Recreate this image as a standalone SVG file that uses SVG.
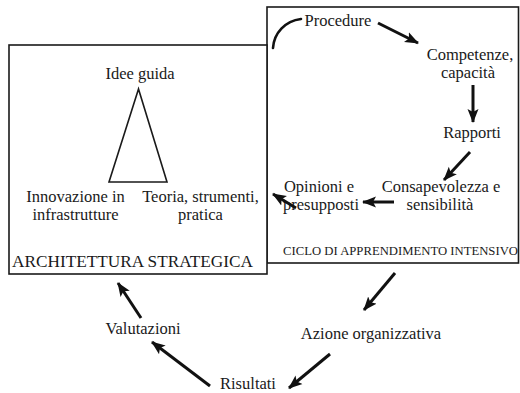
<svg xmlns="http://www.w3.org/2000/svg" width="520" height="393" viewBox="0 0 520 393">
  <style>
    .box { fill: #fff; stroke: #1a1a1a; stroke-width: 1.6; }
    .lbl { font-size: 16.5px; fill: #1a1a1a; text-anchor: middle; }
    .cap { fill: #1a1a1a; }
    .arr { fill: none; stroke: #111; stroke-width: 3; marker-end: url(#head); }
    .tri { fill: none; stroke: #1a1a1a; stroke-width: 1.6; stroke-linejoin: miter; }
  </style>
  <defs>
    <marker id="head" markerUnits="userSpaceOnUse" markerWidth="14" markerHeight="12" refX="13" refY="6" orient="auto">
      <path d="M0,0.5 L14,6 L0,11.5 L3,6 Z" fill="#111"/>
    </marker>
  </defs>

  <rect width="520" height="393" fill="#fff"/>

  <g font-family="Liberation Serif, Times New Roman, serif">
  <!-- intensive learning cycle frame -->
  <g id="ciclo">
    <rect class="box" x="267" y="7" width="251.5" height="256"/>
    <text class="cap" x="283" y="255" font-size="12.5" textLength="235" lengthAdjust="spacingAndGlyphs">CICLO DI APPRENDIMENTO INTENSIVO</text>
  </g>

  <!-- strategic architecture frame -->
  <g id="architettura">
    <rect class="box" x="9" y="45" width="258" height="229"/>
    <polygon class="tri" points="138.5,89 109,182 167,182"/>
    <text class="cap" x="132.5" y="267" font-size="16.5" text-anchor="middle" textLength="241" lengthAdjust="spacingAndGlyphs">ARCHITETTURA STRATEGICA</text>
  </g>

  <g id="idee"><text class="lbl" x="140" y="79">Idee guida</text></g>
  <g id="innovazione"><text class="lbl" x="75.5" y="202">Innovazione in</text><text class="lbl" x="75.5" y="220">infrastrutture</text></g>
  <g id="teoria"><text class="lbl" x="200.5" y="202">Teoria, strumenti,</text><text class="lbl" x="200.5" y="220">pratica</text></g>

  <g id="procedure"><text class="lbl" x="338" y="26">Procedure</text></g>
  <g id="competenze"><text class="lbl" x="470" y="60">Competenze,</text><text class="lbl" x="468" y="78">capacità</text></g>
  <g id="rapporti"><text class="lbl" x="472" y="138">Rapporti</text></g>
  <g id="consapevolezza"><text class="lbl" x="441" y="192">Consapevolezza e</text><text class="lbl" x="440" y="210">sensibilità</text></g>
  <g id="opinioni"><text class="lbl" x="319" y="192">Opinioni e</text><text class="lbl" x="321" y="210">presupposti</text></g>

  <g id="azione"><text class="lbl" x="371" y="339">Azione organizzativa</text></g>
  <g id="risultati"><text class="lbl" x="248" y="389">Risultati</text></g>
  <g id="valutazioni"><text class="lbl" x="143" y="334">Valutazioni</text></g>
  </g>

  <!-- connectors -->
  <g id="connectors">
    <path d="M273,48 C274,33 285,21 301,19" fill="none" stroke="#111" stroke-width="2.6" stroke-linecap="round"/>
    <path class="arr" d="M378,23 L418,43"/>
    <path class="arr" d="M473,85 L473,122"/>
    <path class="arr" d="M470,152 L444,180"/>
    <path class="arr" d="M394,202 L363,202"/>
    <path class="arr" d="M296,208 L273,194"/>
    <path class="arr" d="M395,273 L364,310"/>
    <path class="arr" d="M330,354 L289,388"/>
    <path class="arr" d="M210,386 L152,342"/>
    <path class="arr" d="M141,318 L118,283"/>
  </g>
</svg>
